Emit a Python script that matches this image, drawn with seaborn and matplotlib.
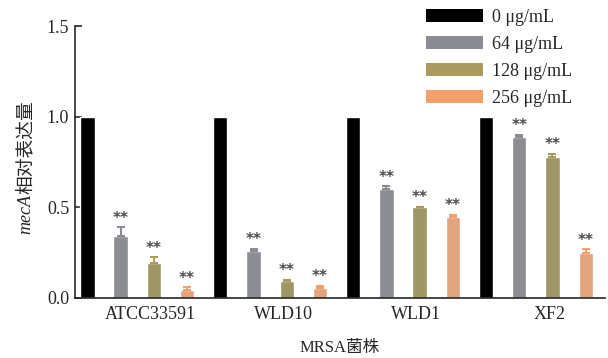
import seaborn as sns
import matplotlib.pyplot as plt
import pandas as pd
from matplotlib.patches import Patch

strains = ['ATCC33591', 'WLD10', 'WLD1', 'XF2']
concs = ['0 μg/mL', '64 μg/mL', '128 μg/mL', '256 μg/mL']
colors = ['#000000', '#8b8c93', '#a99c5c', '#f2a06c']

# relative mecA expression per strain, one list per concentration
expr_0 = [1.0, 1.0, 1.0, 1.0]
expr_64 = [0.34, 0.26, 0.60, 0.89]
expr_128 = [0.19, 0.095, 0.50, 0.78]
expr_256 = [0.045, 0.057, 0.446, 0.247]

err_0 = [0.0, 0.0, 0.0, 0.0]
err_64 = [0.05, 0.012, 0.018, 0.01]
err_128 = [0.035, 0.006, 0.004, 0.015]
err_256 = [0.015, 0.01, 0.014, 0.02]

values = [expr_0, expr_64, expr_128, expr_256]
errors = [err_0, err_64, err_128, err_256]
signif = [False, True, True, True]

rows = []
for c, vals in zip(concs, values):
    for s, v in zip(strains, vals):
        rows.append({'strain': s, 'conc': c, 'expr': v})
df = pd.DataFrame(rows)

sns.set_style('ticks')
plt.rcParams['font.family'] = ['Liberation Serif', 'Noto Sans CJK SC']

fig = plt.figure(figsize=(6.08, 3.58), dpi=100)
ax = fig.add_axes([0.123, 0.168, 0.872, 0.759])

sns.barplot(data=df, x='strain', y='expr', hue='conc', order=strains,
            hue_order=concs, palette=colors, width=1.0, gap=0.57,
            errorbar=None, legend=False, ax=ax)

# error bars (upper only) and significance stars, taken from the drawn bars
for j in range(len(concs)):
    for i in range(len(strains)):
        p = ax.patches[j * len(strains) + i]
        xc = p.get_x() + p.get_width() / 2
        h = p.get_height()
        e = errors[j][i]
        if e > 0:
            ax.errorbar(xc, h, yerr=[[0], [e]], fmt='none', ecolor=colors[j],
                        capsize=3, elinewidth=1.5, capthick=1.5)
        if signif[j]:
            ax.annotate('**', (xc, h + e), xytext=(0, 1), textcoords='offset points',
                        ha='center', va='bottom', fontsize=11, fontweight='bold',
                        color='#4a4a4a', family='DejaVu Sans')

ax.set_ylim(0, 1.5)
ax.set_xlim(-0.47, 3.52)
ax.set_yticks([0.0, 0.5, 1.0, 1.5])
ax.set_yticklabels(['0.0', '0.5', '1.0', '1.5'])
ax.tick_params(axis='y', direction='in', length=5, width=1.2, labelsize=13, pad=4)
ax.tick_params(axis='x', length=0, labelsize=13, pad=6)
ax.set_xticks([i + 0.1 for i in range(len(strains))])
ax.set_xticklabels(strains)
sns.despine(ax=ax)
for sp in ['left', 'bottom']:
    ax.spines[sp].set_linewidth(1.2)

ax.set_xlabel('MRSA菌株', fontsize=12, labelpad=12)
ax.set_ylabel('')

# y label: italic gene name followed by Chinese text, rotated
t1 = fig.text(0.042, 0.345, 'mecA', rotation=90, ha='center', va='bottom',
              fontsize=13, style='italic', family='Liberation Serif')
ax.annotate('相对表达量', xy=(0.5, 1.0), xycoords=t1, rotation=90,
            ha='center', va='bottom', fontsize=13.5, fontweight='medium',
            family='Noto Sans CJK SC', annotation_clip=False)

handles = [Patch(facecolor=c, edgecolor='none') for c in colors]
fig.legend(handles, concs, loc='upper left', bbox_to_anchor=(0.70, 0.975),
           frameon=False, fontsize=13, handlelength=3.2, handleheight=0.75,
           handletextpad=0.45, labelspacing=0.55, borderpad=0, borderaxespad=0)

fig.savefig('out.png', dpi=100)
